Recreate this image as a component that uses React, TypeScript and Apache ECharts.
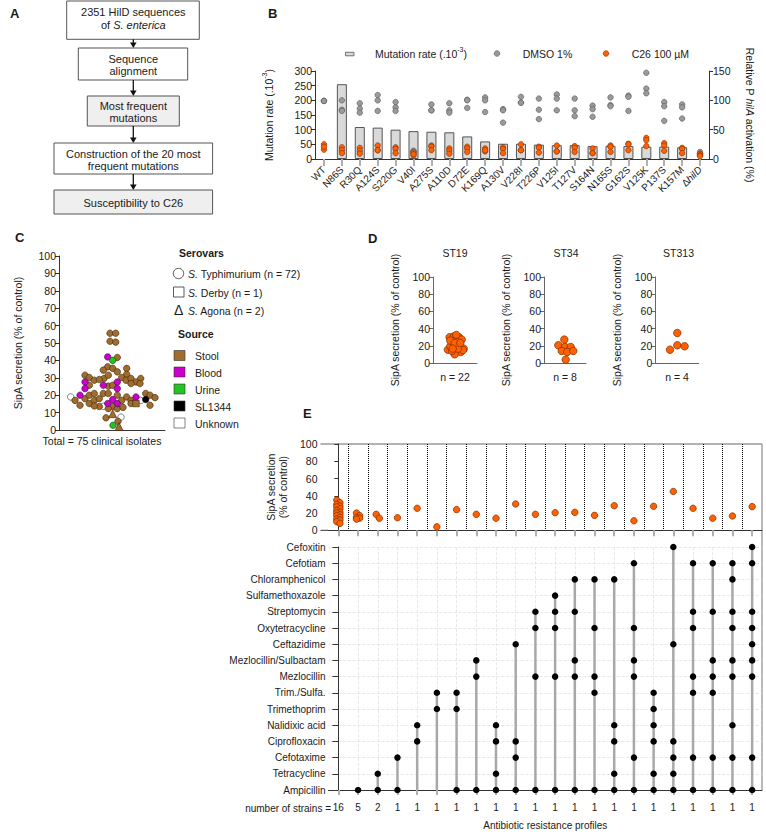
import React, { useEffect, useRef } from 'react';
import * as echarts from 'echarts';

const FONT = 'Arial, "Liberation Sans", Helvetica, sans-serif';

// ---------- Panel B ----------
const mutations = ['WT', 'N86S', 'R30Q', 'A124S', 'S220G', 'V40I', 'A275S', 'A110D', 'D72E', 'K169Q', 'A130V', 'V228I', 'T226P', 'V125I', 'T127V', 'S164N', 'N165S', 'G162S', 'V125K', 'P137S', 'K157M', 'ΔhilD'];
const mutationRate = ['-', 255, 109, 107, 100, 95, 93, 91, 77, 60, 52, 52, 49, 47, 47, 44, 45, 44, 42, 42, 40, '-'];
const dmso = [[99, 99, 99], [100, 84, 82], [95, 86, 79], [109, 100, 82], [97, 88, 82], [14, 13, 12], [93, 83, 83], [95, 83, 79], [101, 100, 87], [105, 100, 80], [85, 83, 62], [106, 96, 96], [103, 84, 68], [110, 103, 83], [103, 83, 73], [91, 85, 72], [105, 92, 90], [108, 106, 82], [147, 120, 112], [97, 90, 65], [93, 88, 69], [12, 9, 8]];
const c26 = [[25, 16, 21], [20, 15, 10], [19, 14, 9], [23, 15, 15], [20, 17, 10], [10, 6, 8], [23, 21, 15], [18, 14, 9], [21, 18, 12], [18, 13, 15], [20, 17, 10], [25, 15, 15], [21, 19, 11], [23, 13, 13], [22, 19, 12], [18, 10, 10], [23, 21, 12], [26, 25, 15], [36, 32, 22], [27, 23, 14], [19, 17, 10], [9, 6, 5]];

// ---------- Panel C (x = swarm offset, y = SipA secretion %) ----------
const stool = [[51, 55.6], [56.7, 55.6], [51, 51], [56.7, 50.5], [58.3, 41.7], [48.7, 36.3], [44.3, 34.4], [53.7, 35.4], [58.3, 33.4], [67.7, 35.4], [26, 31.5], [30.3, 30.2], [45, 29.6], [49.3, 31.5], [67.7, 32], [30.3, 25.7], [35.3, 28.6], [40.3, 29], [49.3, 25.2], [62.7, 30.2], [67, 28.6], [72, 29.6], [77, 27.6], [81.7, 29.6], [53.7, 25.7], [72, 26.7], [81, 26.7], [16, 17], [21, 14.2], [26, 18], [30.3, 15.2], [30.3, 20], [35.3, 17], [35.3, 21], [40.3, 18], [44.3, 21], [49.3, 21], [58.3, 20], [53.7, 13.6], [62.7, 17], [67.7, 19], [72, 17], [72, 15.2], [86.7, 21], [91, 20], [96, 18.6], [91, 14.2], [49.3, 12.3], [58.3, 12.3], [47, 7], [59, 5], [40.3, 13.5], [64, 13], [35.3, 13.8]];
const derby = [[77, 15.2]];
const agona = [[53.7, 9.4], [60, 2]];
const blood = [[48.7, 42], [26, 27.6], [44.3, 25.7], [58.3, 27.6], [26, 23.8], [58.3, 23.8], [21, 20], [53.7, 17.5], [48.7, 15.2], [58.3, 15.2], [77, 19]];
const urine = [[53.7, 40], [54, 2.7]];
const sl1344 = [[86.7, 17.5]];
const unknown = [[11.7, 19], [44.3, 13.6], [81.7, 17], [62, 7.4]];

// ---------- Panel D ----------
const st19 = [[14.9, 15.5], [16.6, 30], [21, 31], [26, 30], [23.3, 32.6], [28.7, 27.2], [19.3, 25.6], [24, 24.4], [17.3, 19.4], [21.7, 18.6], [26.7, 20.6], [30.7, 16.7], [23.3, 14], [27.7, 12.8], [21.7, 10.1], [19, 14], [30, 15], [25, 16.7], [17.3, 26], [21.7, 23.3], [27.3, 23.3], [19.7, 16.7]];
const st34 = [[14.3, 20.6], [20.3, 27.2], [21, 18.6], [26.7, 18.6], [17.7, 14], [23.3, 12.8], [29.3, 14], [21.7, 3.9]];
const st313 = [[14.7, 15.5], [22, 34.9], [22, 20.6], [29.3, 19.4]];

// ---------- Panel E ----------
const antibiotics = ['Ampicillin', 'Tetracycline', 'Cefotaxime', 'Ciprofloxacin', 'Nalidixic acid', 'Trimethoprim', 'Trim./Sulfa.', 'Mezlocillin', 'Mezlocillin/Sulbactam', 'Ceftazidime', 'Oxytetracycline', 'Streptomycin', 'Sulfamethoxazole', 'Chloramphenicol', 'Cefotiam', 'Cefoxitin'];
const strainCounts = ['16', '5', '2', '1', '1', '1', '1', '1', '1', '1', '1', '1', '1', '1', '1', '1', '1', '1', '1', '1', '1', '1'];
const profiles = [
  [],
  ['Ampicillin'],
  ['Ampicillin', 'Tetracycline'],
  ['Ampicillin', 'Cefotaxime'],
  ['Ciprofloxacin', 'Nalidixic acid'],
  ['Trimethoprim', 'Trim./Sulfa.'],
  ['Ampicillin', 'Trimethoprim', 'Trim./Sulfa.'],
  ['Ampicillin', 'Mezlocillin', 'Mezlocillin/Sulbactam'],
  ['Ampicillin', 'Tetracycline', 'Ciprofloxacin', 'Nalidixic acid'],
  ['Ampicillin', 'Cefotaxime', 'Ciprofloxacin', 'Ceftazidime'],
  ['Ampicillin', 'Mezlocillin', 'Oxytetracycline', 'Streptomycin'],
  ['Ampicillin', 'Mezlocillin', 'Oxytetracycline', 'Streptomycin', 'Sulfamethoxazole'],
  ['Ampicillin', 'Mezlocillin', 'Mezlocillin/Sulbactam', 'Streptomycin', 'Chloramphenicol'],
  ['Ampicillin', 'Trim./Sulfa.', 'Mezlocillin', 'Oxytetracycline', 'Chloramphenicol'],
  ['Ampicillin', 'Tetracycline', 'Ciprofloxacin', 'Nalidixic acid', 'Chloramphenicol'],
  ['Ampicillin', 'Cefotaxime', 'Mezlocillin', 'Mezlocillin/Sulbactam', 'Oxytetracycline', 'Cefotiam'],
  ['Ampicillin', 'Tetracycline', 'Ciprofloxacin', 'Nalidixic acid', 'Trimethoprim', 'Trim./Sulfa.'],
  ['Ampicillin', 'Tetracycline', 'Cefotaxime', 'Ciprofloxacin', 'Ceftazidime', 'Cefoxitin'],
  ['Ampicillin', 'Cefotaxime', 'Trim./Sulfa.', 'Mezlocillin', 'Oxytetracycline', 'Streptomycin', 'Cefotiam'],
  ['Ampicillin', 'Cefotaxime', 'Trim./Sulfa.', 'Mezlocillin', 'Mezlocillin/Sulbactam', 'Streptomycin', 'Cefotiam'],
  ['Ampicillin', 'Cefotaxime', 'Nalidixic acid', 'Mezlocillin', 'Mezlocillin/Sulbactam', 'Oxytetracycline', 'Streptomycin', 'Chloramphenicol', 'Cefotiam'],
  ['Ampicillin', 'Cefotaxime', 'Mezlocillin', 'Mezlocillin/Sulbactam', 'Ceftazidime', 'Oxytetracycline', 'Streptomycin', 'Cefotiam', 'Cefoxitin'],
];
const profileSecretion = [
  [35, 32, 30, 28, 27, 25, 23, 21, 20, 18, 17, 15, 13, 12, 10, 8],
  [20, 17, 15, 14, 13],
  [18.5, 14],
  [14.6], [25.5], [4], [24], [18.5], [14], [30.5], [18.5], [20.4], [20.8], [17.3], [28.5], [11], [27.8], [45], [25.5], [14], [16.6], [27.4],
];

const BROWN = '#a06c30';
const MAGENTA = '#cc00cc';
const GREEN = '#22c322';
const ORANGE = '#ff6000';
const ORANGE_EDGE = '#7a2e00';
const GRAY = '#9a9a9a';
const TXT = '#1a1a1a';
const AX = '#333';

function buildOption() {
  const lbl = { color: TXT, fontSize: 10, fontFamily: FONT };
  const axLine = { show: true, lineStyle: { color: AX, width: 1 } };
  const axTick = { show: true, length: 4, lineStyle: { color: AX, width: 1 } };
  const nameStyle = { color: TXT, fontSize: 10, fontFamily: FONT };

  const dmsoData: number[][] = [];
  const c26Data: number[][] = [];
  dmso.forEach((arr, i) => arr.forEach((v) => dmsoData.push([i, v])));
  c26.forEach((arr, i) => arr.forEach((v) => c26Data.push([i, v])));

  const topData: number[][] = [];
  profileSecretion.forEach((arr, i) => arr.forEach((v, k) => {
    const off = arr.length > 1 ? (k % 2 === 0 ? -0.08 : 0.08) : 0;
    topData.push([i + off, v]);
  }));

  const dotData: number[][] = [];
  const lineData: number[][] = [];
  profiles.forEach((list, c) => {
    let maxRow = -1;
    list.forEach((name) => {
      const r = antibiotics.indexOf(name);
      dotData.push([c, r]);
      if (r > maxRow) maxRow = r;
    });
    if (maxRow > 0) lineData.push([c, maxRow]);
  });

  const txt = (x: number, y: number, text: string, o: any = {}) => ({
    type: 'text', x, y, silent: true,
    style: {
      text, fill: o.fill || TXT, fontSize: o.size || 11, fontFamily: FONT,
      fontWeight: o.bold ? 'bold' : 'normal', fontStyle: o.italic ? 'italic' : 'normal',
      textAlign: o.align || 'left', textVerticalAlign: 'middle', rich: o.rich,
    },
  });
  const box = (x: number, y: number, w: number, h: number, fill: string) => ({
    type: 'rect', shape: { x, y, width: w, height: h }, silent: true,
    style: { fill, stroke: '#555', lineWidth: 1 },
  });
  const arrow = (y1: number, y2: number) => ([
    { type: 'line', silent: true, shape: { x1: 133.3, y1, x2: 133.3, y2: y2 - 5 }, style: { stroke: '#111', lineWidth: 1.3 } },
    { type: 'polygon', silent: true, shape: { points: [[130, y2 - 5.5], [136.6, y2 - 5.5], [133.3, y2]] }, style: { fill: '#111' } },
  ]);
  const ital = { i: { fontStyle: 'italic', fontSize: 11, fontFamily: FONT, fill: TXT } };

  const graphic: any[] = [
    // panel letters
    txt(10, 13, 'A', { bold: true, size: 13 }),
    txt(268, 13, 'B', { bold: true, size: 13 }),
    txt(15, 237, 'C', { bold: true, size: 13 }),
    txt(368, 238, 'D', { bold: true, size: 13 }),
    txt(303, 413, 'E', { bold: true, size: 13 }),
    // Panel A flow chart
    box(66.7, 1, 132.6, 38.3, '#ffffff'),
    txt(133.3, 12, '2351 HilD sequences', { align: 'center' }),
    txt(133.3, 24.5, 'of {i|S. enterica}', { align: 'center', rich: ital }),
    ...arrow(39.3, 48),
    box(78.3, 48, 109.4, 32, '#ffffff'),
    txt(133.3, 58.5, 'Sequence', { align: 'center' }),
    txt(133.3, 70.7, 'alignment', { align: 'center' }),
    ...arrow(80, 96),
    box(87.3, 96, 92, 30, '#efefef'),
    txt(133.3, 105.5, 'Most frequent', { align: 'center' }),
    txt(133.3, 118, 'mutations', { align: 'center' }),
    ...arrow(126, 143),
    box(54, 143, 158.6, 31, '#ffffff'),
    txt(133.3, 154, 'Construction of the 20 most', { align: 'center' }),
    txt(133.3, 166, 'frequent mutations', { align: 'center' }),
    ...arrow(174, 190),
    box(54, 190, 158.6, 24, '#efefef'),
    txt(133.3, 202.5, 'Susceptibility to C26', { align: 'center' }),
    // Panel B legend
    { type: 'rect', silent: true, shape: { x: 345.5, y: 52.3, width: 8.5, height: 3.5 }, style: { fill: '#d9d9d9', stroke: '#555', lineWidth: 0.8 } },
    txt(375, 54, 'Mutation rate (.10{sup|-3})', {
      size: 10.5,
      rich: { sup: { fontSize: 7, fontFamily: FONT, fill: TXT, verticalAlign: 'top', lineHeight: 16 } },
    }),
    { type: 'circle', silent: true, shape: { cx: 497, cy: 53.5, r: 2.8 }, style: { fill: GRAY, stroke: '#555', lineWidth: 0.6 } },
    txt(522.7, 54, 'DMSO 1%', { size: 10.5 }),
    { type: 'circle', silent: true, shape: { cx: 606, cy: 53.5, r: 2.8 }, style: { fill: ORANGE, stroke: ORANGE_EDGE, lineWidth: 0.6 } },
    txt(631.7, 54, 'C26 100 µM', { size: 10.5 }),
    // Panel C legend
    txt(179, 253, 'Serovars', { bold: true, size: 10.5 }),
    { type: 'circle', silent: true, shape: { cx: 178.5, cy: 273.5, r: 5.2 }, style: { fill: '#fff', stroke: '#333', lineWidth: 0.8 } },
    txt(188, 274, '{i|S.} Typhimurium (n = 72)', { size: 10.5, rich: { i: { fontStyle: 'italic', fontSize: 10.5, fontFamily: FONT, fill: TXT } } }),
    { type: 'rect', silent: true, shape: { x: 173.5, y: 287, width: 10.5, height: 10 }, style: { fill: '#fff', stroke: '#333', lineWidth: 0.8 } },
    txt(188, 292.5, '{i|S.} Derby (n = 1)', { size: 10.5, rich: { i: { fontStyle: 'italic', fontSize: 10.5, fontFamily: FONT, fill: TXT } } }),
    txt(178.7, 310, 'Δ', { size: 14, align: 'center' }),
    txt(188, 311, '{i|S.} Agona (n = 2)', { size: 10.5, rich: { i: { fontStyle: 'italic', fontSize: 10.5, fontFamily: FONT, fill: TXT } } }),
    txt(178, 334, 'Source', { bold: true, size: 10.5 }),
    ...[['Stool', BROWN, 355.5], ['Blood', MAGENTA, 372], ['Urine', GREEN, 389], ['SL1344', '#000', 406], ['Unknown', '#fff', 423]].flatMap(([n, c, y]: any) => [
      { type: 'rect', silent: true, shape: { x: 174, y: y - 5, width: 11, height: 10 }, style: { fill: c, stroke: '#333', lineWidth: 0.6 } },
      txt(195, y + 0.5, n, { size: 10.5 }),
    ]),
    txt(102, 441, 'Total = 75 clinical isolates', { size: 10.5, align: 'center' }),
    // Panel D titles
    txt(455, 253, 'ST19', { size: 10.5, align: 'center' }),
    txt(566, 253, 'ST34', { size: 10.5, align: 'center' }),
    txt(678.5, 253, 'ST313', { size: 10.5, align: 'center' }),
    // Panel E frame
    { type: 'line', silent: true, shape: { x1: 320.5, y1: 444, x2: 762, y2: 444 }, style: { stroke: '#9a9a9a', lineWidth: 1.4 } },
    { type: 'line', silent: true, shape: { x1: 762, y1: 444, x2: 762, y2: 790 }, style: { stroke: '#8a8a8a', lineWidth: 1.2 } },
    { type: 'line', silent: true, shape: { x1: 320.5, y1: 530.3, x2: 328.5, y2: 530.3 }, style: { stroke: AX, lineWidth: 1 } },
    txt(331, 808, 'number of strains =', { size: 10, align: 'right' }),
  ];

  const hiddenVal = (gridIndex: number, min: number, max: number) => ({
    type: 'value', gridIndex, min, max,
    axisLine: axLine, axisTick: { show: false }, axisLabel: { show: false }, splitLine: { show: false },
  });

  const option: any = {
    animation: false,
    backgroundColor: '#fff',
    textStyle: { fontFamily: FONT },
    graphic,
    grid: [
      { left: 315, top: 71, width: 394, height: 88, containLabel: false, outerBoundsMode: 'none' },
      { left: 59, top: 256, width: 106, height: 174, containLabel: false, outerBoundsMode: 'none' },
      { left: 433, top: 277, width: 44, height: 86, containLabel: false, outerBoundsMode: 'none' },
      { left: 544, top: 277, width: 42, height: 86, containLabel: false, outerBoundsMode: 'none' },
      { left: 655.3, top: 277, width: 43.4, height: 86, containLabel: false, outerBoundsMode: 'none' },
      { left: 328.5, top: 444, width: 433.5, height: 86.3, containLabel: false, outerBoundsMode: 'none' },
      { left: 328.5, top: 547, width: 433.5, height: 243, containLabel: false, outerBoundsMode: 'none' },
    ],
    xAxis: [
      {
        type: 'category', gridIndex: 0, data: mutations,
        axisLine: axLine,
        axisTick: { show: true, alignWithLabel: true, length: 7, lineStyle: { color: '#b0b0b0', width: 2 } },
        axisLabel: {
          ...lbl, rotate: 45, interval: 0, margin: 9,
          formatter: (v: string) => (v === 'ΔhilD' ? 'Δ{i|hilD}' : v),
          rich: { i: { fontStyle: 'italic', fontSize: 10, fontFamily: FONT, color: TXT } },
        },
      },
      hiddenVal(1, 0, 106),
      { ...hiddenVal(2, 0, 44), name: 'n = 22', nameLocation: 'middle', nameGap: 8, nameTextStyle: { ...nameStyle, fontSize: 10.5 }, axisLine: { show: true, lineStyle: { color: '#666' } } },
      { ...hiddenVal(3, 0, 42), name: 'n = 8', nameLocation: 'middle', nameGap: 8, nameTextStyle: { ...nameStyle, fontSize: 10.5 }, axisLine: { show: true, lineStyle: { color: '#666' } } },
      { ...hiddenVal(4, 0, 43.4), name: 'n = 4', nameLocation: 'middle', nameGap: 8, nameTextStyle: { ...nameStyle, fontSize: 10.5 }, axisLine: { show: true, lineStyle: { color: '#666' } } },
      {
        type: 'value', gridIndex: 5, min: -0.5, max: 21.5, interval: 1,
        axisLine: axLine, axisTick: { show: false }, axisLabel: { show: false },
        minorTick: { show: true, splitNumber: 2, length: 6, lineStyle: { color: '#b0b0b0', width: 2 } },
        splitLine: { show: true, showMinLine: false, showMaxLine: false, lineStyle: { color: '#000', type: 'dotted', width: 1 } },
      },
      {
        type: 'category', gridIndex: 6, data: strainCounts,
        axisLine: axLine,
        axisTick: { show: true, alignWithLabel: true, length: 5, lineStyle: { color: '#b0b0b0', width: 2 } },
        axisLabel: { ...lbl, interval: 0, margin: 12 },
        name: 'Antibiotic resistance profiles', nameLocation: 'middle', nameGap: 30, nameTextStyle: nameStyle,
      },
      {
        type: 'value', gridIndex: 6, min: -0.5, max: 21.5, interval: 1, position: 'top',
        axisLine: { show: false }, axisTick: { show: false }, axisLabel: { show: false }, splitLine: { show: false },
        minorTick: { show: false, splitNumber: 2 },
        minorSplitLine: { show: true, lineStyle: { color: '#e2e2e2', type: 'dashed', width: 0.8 } },
      },
    ],
    yAxis: [
      {
        type: 'value', gridIndex: 0, min: 0, max: 300, interval: 50,
        axisLine: axLine, axisTick: axTick, axisLabel: { ...lbl, fontSize: 10.5, margin: 3 }, splitLine: { show: false },
        name: 'Mutation rate (.10{sup|-3})', nameLocation: 'middle', nameGap: 38,
        nameTextStyle: { ...nameStyle, fontSize: 10.5, lineHeight: 16, rich: { sup: { fontSize: 7, fontFamily: FONT, color: TXT, verticalAlign: 'top', lineHeight: 16 } } },
      },
      {
        type: 'value', gridIndex: 0, min: 0, max: 150, interval: 50, position: 'right',
        axisLine: axLine, axisTick: axTick, axisLabel: { ...lbl, fontSize: 10.5, margin: 4 }, splitLine: { show: false },
        name: 'Relative P {i|hilA} activation (%)', nameLocation: 'middle', nameGap: 35, nameRotate: -90,
        nameTextStyle: { ...nameStyle, fontSize: 10.5, rich: { i: { fontStyle: 'italic', fontSize: 10.5, fontFamily: FONT, color: TXT } } },
      },
      {
        type: 'value', gridIndex: 1, min: 0, max: 100, interval: 10,
        axisLine: axLine, axisTick: axTick, axisLabel: { ...lbl, fontSize: 10.5, margin: 3 }, splitLine: { show: false },
        name: 'SipA secretion (% of control)', nameLocation: 'middle', nameGap: 36, nameTextStyle: { ...nameStyle, fontSize: 10.5 },
      },
      ...[2, 3, 4].map((g) => ({
        type: 'value', gridIndex: g, min: 0, max: 100, interval: 20,
        axisLine: { show: true, lineStyle: { color: '#666' } }, axisTick: { show: true, length: 4, lineStyle: { color: '#666' } },
        axisLabel: { ...lbl, fontSize: 10.5, margin: 3 }, splitLine: { show: false },
        name: 'SipA secretion (% of control)', nameLocation: 'middle', nameGap: 33, nameTextStyle: { ...nameStyle, fontSize: 10.5 },
      })),
      {
        type: 'value', gridIndex: 5, min: 0, max: 100, interval: 20, offset: 8,
        axisLine: axLine, axisTick: axTick, axisLabel: { ...lbl, fontSize: 10.5, margin: 3 }, splitLine: { show: false },
        name: 'SipA secretion\n(% of control)', nameLocation: 'middle', nameGap: 28, nameTextStyle: { ...nameStyle, fontSize: 10.5, lineHeight: 12 },
      },
      {
        type: 'category', gridIndex: 6, data: antibiotics, boundaryGap: false,
        axisLine: axLine, axisTick: { show: true, length: 6, lineStyle: { color: AX } },
        axisLabel: { ...lbl, fontSize: 10, interval: 0, margin: 3 },
        splitLine: { show: true, lineStyle: { color: '#e2e2e2', type: 'dashed', width: 0.8 } },
      },
    ],
    series: [
      {
        type: 'bar', xAxisIndex: 0, yAxisIndex: 0, data: mutationRate, barWidth: 10,
        itemStyle: { color: '#d9d9d9', borderColor: '#555', borderWidth: 1 }, z: 1,
      },
      {
        type: 'scatter', xAxisIndex: 0, yAxisIndex: 1, data: dmsoData, symbolSize: 5.5,
        itemStyle: { color: GRAY, borderColor: '#555', borderWidth: 0.6, opacity: 1 }, z: 3,
      },
      {
        type: 'scatter', xAxisIndex: 0, yAxisIndex: 1, data: c26Data, symbolSize: 5.5,
        itemStyle: { color: ORANGE, borderColor: ORANGE_EDGE, borderWidth: 0.6, opacity: 1 }, z: 4,
      },
      // Panel C
      {
        type: 'scatter', xAxisIndex: 1, yAxisIndex: 2, data: unknown, symbolSize: 6.5,
        itemStyle: { color: '#fff', borderColor: '#333', borderWidth: 0.6, opacity: 1 }, z: 2,
      },
      {
        type: 'scatter', xAxisIndex: 1, yAxisIndex: 2, symbolSize: 6.5,
        data: [
          ...stool,
          ...derby.map((v) => ({ value: v, symbol: 'rect' })),
          ...agona.map((v) => ({ value: v, symbol: 'triangle', symbolSize: 8 })),
        ],
        itemStyle: { color: BROWN, borderColor: '#3a2400', borderWidth: 0.6, opacity: 1 }, z: 3,
      },
      {
        type: 'scatter', xAxisIndex: 1, yAxisIndex: 2, data: blood, symbolSize: 6.5,
        itemStyle: { color: MAGENTA, borderColor: '#400040', borderWidth: 0.6, opacity: 1 }, z: 4,
      },
      {
        type: 'scatter', xAxisIndex: 1, yAxisIndex: 2, data: urine, symbolSize: 6.5,
        itemStyle: { color: GREEN, borderColor: '#064006', borderWidth: 0.6, opacity: 1 }, z: 5,
      },
      {
        type: 'scatter', xAxisIndex: 1, yAxisIndex: 2, data: sl1344, symbolSize: 6.5,
        itemStyle: { color: '#000', borderColor: '#000', borderWidth: 0.6, opacity: 1 }, z: 5,
      },
      // Panel D
      ...[[st19, 2, 3], [st34, 3, 4], [st313, 4, 5]].map(([d, xi, yi]: any) => ({
        type: 'scatter', xAxisIndex: xi, yAxisIndex: yi, data: d, symbolSize: 7.5,
        itemStyle: { color: ORANGE, borderColor: ORANGE_EDGE, borderWidth: 0.7, opacity: 1 },
      })),
      // Panel E top
      {
        type: 'scatter', xAxisIndex: 5, yAxisIndex: 6, data: topData, symbolSize: 6.5,
        itemStyle: { color: ORANGE, borderColor: ORANGE_EDGE, borderWidth: 0.7, opacity: 1 },
      },
      // Panel E matrix
      {
        type: 'custom', xAxisIndex: 6, yAxisIndex: 7, data: lineData, encode: { x: 0, y: 1 }, z: 2,
        renderItem: (params: any, api: any) => {
          const c = api.value(0);
          const top = api.value(1);
          const p0 = api.coord([c, 0]);
          const p1 = api.coord([c, top]);
          return {
            type: 'line',
            shape: { x1: p0[0], y1: p0[1], x2: p1[0], y2: p1[1] },
            style: { stroke: '#a8a8a8', lineWidth: 2.5 },
          };
        },
      },
      {
        type: 'scatter', xAxisIndex: 6, yAxisIndex: 7, data: dotData, symbolSize: 6.5,
        itemStyle: { color: '#000', opacity: 1 }, z: 3,
      },
    ],
  };
  return option;
}

export default function App() {
  const ref = useRef<HTMLDivElement>(null);
  useEffect(() => {
    if (!ref.current) return;
    const chart = echarts.init(ref.current, null, { renderer: 'svg' });
    chart.setOption(buildOption());
    return () => chart.dispose();
  }, []);
  return (
    <div
      ref={ref}
      style={{ position: 'absolute', left: 0, top: 0, width: 766, height: 832, background: '#fff' }}
    />
  );
}
